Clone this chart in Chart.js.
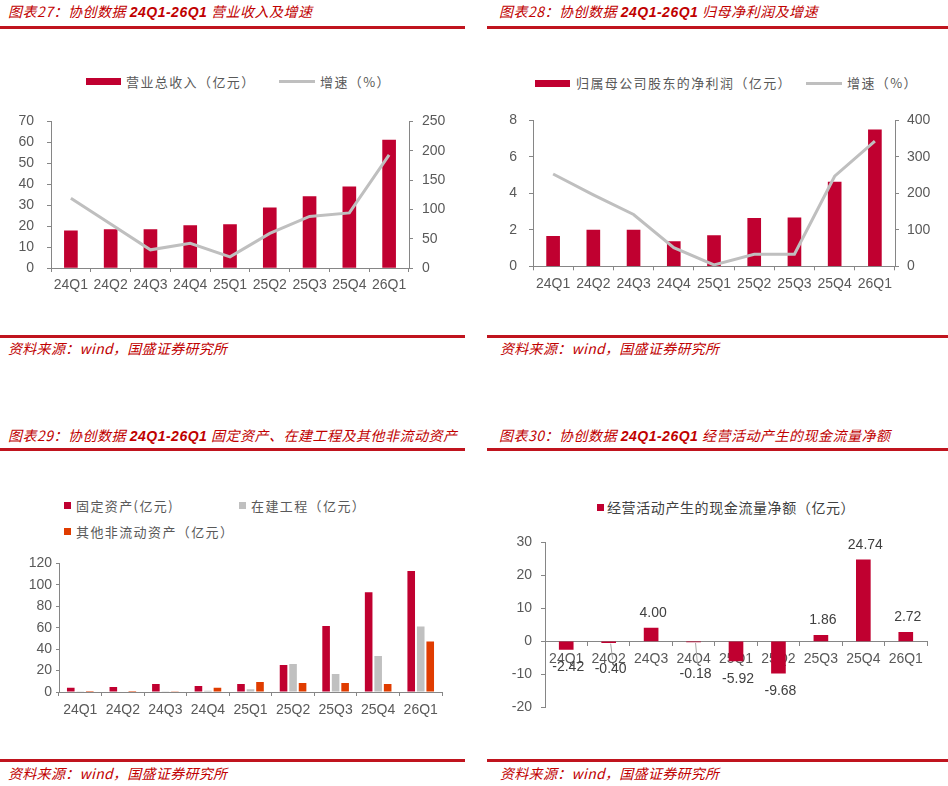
<!doctype html>
<html>
<head>
	<meta charset="utf-8">
	<title>协创数据 24Q1-26Q1</title>
	<script src="https://cdn.jsdelivr.net/npm/chart.js@4.4.1/dist/chart.umd.min.js"></script>
	<style>
		body {
			margin: 0;
			width: 948px;
			height: 786px;
			position: relative;
			overflow: hidden;
			background: #fff;
			font-family: "Noto Sans CJK SC", sans-serif;
		}
		.title {
			position: absolute;
			font-size: 14px;
			font-style: italic;
			color: #C00000;
			line-height: 18px;
			letter-spacing: 0.5px;
			white-space: nowrap;
		}
		.title b {
			font-family: "Liberation Sans", Arial, sans-serif;
			font-weight: bold;
		}
		.rule {
			position: absolute;
			height: 3px;
			background: #C0141E;
		}
		.source {
			position: absolute;
			font-size: 14px;
			font-style: italic;
			color: #C00000;
			line-height: 16px;
			letter-spacing: 0.3px;
			white-space: nowrap;
		}
		.lg {
			position: absolute;
			font-size: 13px;
			color: #595959;
			letter-spacing: 1.4px;
			line-height: 16px;
			white-space: nowrap;
		}
		.sw {
			position: absolute;
		}
		.box {
			position: absolute;
		}
	</style>
</head>

<body>
<!--	titles and rules-->
	<div class="title" style="left:8px; top:2px;">图表27：协创数据 <b>24Q1-26Q1</b> 营业收入及增速</div>
	<div class="title" style="left:499px; top:2px;">图表28：协创数据 <b>24Q1-26Q1</b> 归母净利润及增速</div>
	<div class="rule" style="left:0; width:465px; top:26px;"></div>
	<div class="rule" style="left:487px; width:461px; top:26px;"></div>

	<div class="rule" style="left:0; width:465px; top:335px;"></div>
	<div class="rule" style="left:487px; width:461px; top:335px;"></div>
	<div class="source" style="left:8px; top:340px;">资料来源：wind，国盛证券研究所</div>
	<div class="source" style="left:500px; top:340px;">资料来源：wind，国盛证券研究所</div>

	<div class="title" style="left:8px; top:426px;">图表29：协创数据 <b>24Q1-26Q1</b> 固定资产、在建工程及其他非流动资产</div>
	<div class="title" style="left:499px; top:426px;">图表30：协创数据 <b>24Q1-26Q1</b> 经营活动产生的现金流量净额</div>
	<div class="rule" style="left:0; width:465px; top:448px;"></div>
	<div class="rule" style="left:487px; width:461px; top:448px;"></div>

	<div class="rule" style="left:0; width:465px; top:759px;"></div>
	<div class="rule" style="left:487px; width:461px; top:759px;"></div>
	<div class="source" style="left:8px; top:765px;">资料来源：wind，国盛证券研究所</div>
	<div class="source" style="left:500px; top:765px;">资料来源：wind，国盛证券研究所</div>

<!--	legends-->
	<div class="sw" style="left:86px; top:78px; width:35px; height:7px; background:#C00030;"></div>
	<div class="lg" style="left:126px; top:74px;">营业总收入（亿元）</div>
	<div class="sw" style="left:279px; top:80px; width:36px; height:3px; background:#BFBFBF;"></div>
	<div class="lg" style="left:320px; top:74px;">增速（%）</div>

	<div class="sw" style="left:535px; top:80px; width:35px; height:7px; background:#C00030;"></div>
	<div class="lg" style="left:576px; top:75px;">归属母公司股东的净利润（亿元）</div>
	<div class="sw" style="left:806px; top:82px; width:36px; height:3px; background:#BFBFBF;"></div>
	<div class="lg" style="left:847px; top:75px;">增速（%）</div>

	<div class="sw" style="left:64px; top:502px; width:7px; height:7px; background:#C00030;"></div>
	<div class="lg" style="left:76px; top:498px;">固定资产(亿元)</div>
	<div class="sw" style="left:239px; top:502px; width:7px; height:7px; background:#C0C0C0;"></div>
	<div class="lg" style="left:251px; top:498px;">在建工程（亿元）</div>
	<div class="sw" style="left:64px; top:528px; width:7px; height:7px; background:#E03C00;"></div>
	<div class="lg" style="left:76px; top:524px;">其他非流动资产（亿元）</div>

	<div class="sw" style="left:597px; top:504px; width:7px; height:7px; background:#C00030;"></div>
	<div class="lg" style="left:607px; top:498px; font-size:14px; color:#404040; letter-spacing:0.6px; line-height:18px;">经营活动产生的现金流量净额（亿元）</div>

<!--	chart boxes-->
	<div class="box" style="left:0; top:100px; width:470px; height:200px;"><canvas id="Revenue"></canvas></div>
	<div class="box" style="left:474px; top:100px; width:474px; height:200px;"><canvas id="NetProfit"></canvas></div>
	<div class="box" style="left:0; top:545px; width:470px; height:185px;"><canvas id="Assets"></canvas></div>
	<div class="box" style="left:474px; top:525px; width:474px; height:200px;"><canvas id="CashFlow"></canvas></div>

	<script>
		var quarters = ['24Q1', '24Q2', '24Q3', '24Q4', '25Q1', '25Q2', '25Q3', '25Q4', '26Q1'];

		var revenue = [17.8, 18.3, 18.3, 20.3, 20.7, 28.7, 34.1, 38.8, 61.1];
		var revenueGrowth = [119, 75, 31, 42, 19, 59, 88, 94, 193];

		var netProfit = [1.64, 1.98, 1.98, 1.36, 1.68, 2.63, 2.66, 4.62, 7.48];
		var netProfitGrowth = [253, 196, 142, 51, 4, 33, 33, 247, 343];

		var fixedAssets = [3.9, 4.7, 7.5, 5.6, 7.5, 25.2, 61.5, 93.0, 112.8];
		var constructionInProgress = [0.3, 0.5, 0.3, 1.2, 2.5, 26.1, 16.8, 33.6, 61.0];
		var otherNonCurrent = [0.9, 0.9, 0.6, 4.0, 9.3, 8.4, 8.4, 7.5, 47.2];

		var operatingCashFlow = [-2.42, -0.40, 4.00, -0.18, -5.92, -9.68, 1.86, 24.74, 2.72];

		var red = '#C00030';
		var gray = '#BFBFBF';
		var orange = '#E03C00';
		var axisColor = '#868686';
		var tickColor = '#595959';
		var numFont = {family: '"Liberation Sans", Arial, sans-serif', size: 14};

		Chart.defaults.font.family = numFont.family;
		Chart.defaults.animation = false;

		// shared look of every axis: only the axis line and short tick marks
		function axis(extra) {
			var base = {
				grid: {
					drawOnChartArea: false,
					drawTicks: true,
					tickLength: 4,
					color: axisColor
				},
				border: {color: axisColor, width: 1},
				ticks: {color: tickColor, font: numFont}
			};
			return Object.assign(base, extra);
		}

		function catAxis(height, padding) {
			var a = axis({afterFit: (s) => { s.height = height; }});
			a.grid.offset = true;
			a.ticks.autoSkip = false;
			a.ticks.maxRotation = 0;
			a.ticks.padding = padding;
			return a;
		}

		function valAxis(pos, width, min, max, step, padding, tick) {
			var a = axis({position: pos, min: min, max: max, afterFit: (s) => { s.width = width; }});
			a.ticks.stepSize = step;
			a.ticks.padding = padding;
			a.grid.tickLength = tick;
			return a;
		}

		new Chart('Revenue', {
			type: 'bar',
			data: {
				labels: quarters,
				datasets: [
					{
						type: 'line',
						label: '增速（%）',
						data: revenueGrowth,
						yAxisID: 'y1',
						borderColor: gray,
						borderWidth: 3,
						pointRadius: 0,
						tension: 0,
						order: 0
					},
					{
						label: '营业总收入（亿元）',
						data: revenue,
						yAxisID: 'y',
						backgroundColor: red,
						barThickness: 13,
						order: 1
					}
				]
			},
			options: {
				responsive: true,
				maintainAspectRatio: false,
				plugins: {legend: {display: false}, tooltip: {enabled: false}},
				layout: {padding: {top: 16, right: 0, bottom: 0, left: 0}},
				scales: {
					x: catAxis(32, 5),
					y: valAxis('left', 51, 0, 70, 10, 13, 4),
					y1: valAxis('right', 61, 0, 250, 50, 9, 4)
				}
			}
		});

		new Chart('NetProfit', {
			type: 'bar',
			data: {
				labels: quarters,
				datasets: [
					{
						type: 'line',
						label: '增速（%）',
						data: netProfitGrowth,
						yAxisID: 'y1',
						borderColor: gray,
						borderWidth: 3,
						pointRadius: 0,
						tension: 0,
						order: 0
					},
					{
						label: '归属母公司股东的净利润（亿元）',
						data: netProfit,
						yAxisID: 'y',
						backgroundColor: red,
						barThickness: 13,
						order: 1
					}
				]
			},
			options: {
				responsive: true,
				maintainAspectRatio: false,
				plugins: {legend: {display: false}, tooltip: {enabled: false}},
				layout: {padding: {top: 17, right: 0, bottom: 0, left: 0}},
				scales: {
					x: catAxis(33.7, 5),
					y: valAxis('left', 59, 0, 8, 2, 12, 4),
					y1: valAxis('right', 53, 0, 400, 100, 8, 4)
				}
			}
		});

		new Chart('Assets', {
			type: 'bar',
			data: {
				labels: quarters,
				datasets: [
					{label: '固定资产(亿元)', data: fixedAssets, backgroundColor: red},
					{label: '在建工程（亿元）', data: constructionInProgress, backgroundColor: '#C0C0C0'},
					{label: '其他非流动资产（亿元）', data: otherNonCurrent, backgroundColor: orange}
				]
			},
			options: {
				responsive: true,
				maintainAspectRatio: false,
				datasets: {bar: {categoryPercentage: 0.67, barPercentage: 0.8}},
				plugins: {legend: {display: false}, tooltip: {enabled: false}},
				layout: {padding: {top: 18.3, right: 28, bottom: 0, left: 0}},
				scales: {
					x: catAxis(38, 5.5),
					y: valAxis('left', 59, 0, 120, 20, 4, 3)
				}
			}
		});

		// value labels for the cash flow bars; tiny bars get a callout with a leader line
		var cashLabels = {
			id: 'cashLabels',
			afterDatasetsDraw(chart, args, opts) {
				var ctx = chart.ctx;
				var meta = chart.getDatasetMeta(0);
				ctx.save();
				ctx.font = '14px ' + numFont.family;
				ctx.fillStyle = '#404040';
				ctx.textAlign = 'center';
				ctx.textBaseline = 'middle';
				meta.data.forEach((bar, i) => {
					var v = operatingCashFlow[i];
					var y;
					if (v >= 0) {
						y = bar.y - 15;
					} else if (opts.callouts[i]) {
						y = bar.y + opts.callouts[i];
						ctx.strokeStyle = '#A6A6A6';
						ctx.lineWidth = 1;
						ctx.beginPath();
						ctx.moveTo(bar.x + 2, bar.y + 1);
						ctx.lineTo(bar.x + 4, y - 9);
						ctx.stroke();
					} else {
						y = bar.y + 18;
					}
					ctx.fillText(v.toFixed(2), bar.x + 2, y);
				});
				ctx.restore();
			}
		};

		var cashX = catAxis(0, 5);
		cashX.position = {y: 0};

		new Chart('CashFlow', {
			type: 'bar',
			data: {
				labels: quarters,
				datasets: [{
					label: '经营活动产生的现金流量净额（亿元）',
					data: operatingCashFlow,
					backgroundColor: red,
					barThickness: 14
				}]
			},
			options: {
				responsive: true,
				maintainAspectRatio: false,
				plugins: {
					legend: {display: false},
					tooltip: {enabled: false},
					cashLabels: {callouts: {1: 26, 3: 32}}
				},
				layout: {padding: {top: 15.7, right: 21, bottom: 17.7, left: 0}},
				scales: {
					x: cashX,
					y: valAxis('left', 71, -20, 30, 10, 9, 4)
				}
			},
			plugins: [cashLabels]
		});
	</script>
</body>
</html>
